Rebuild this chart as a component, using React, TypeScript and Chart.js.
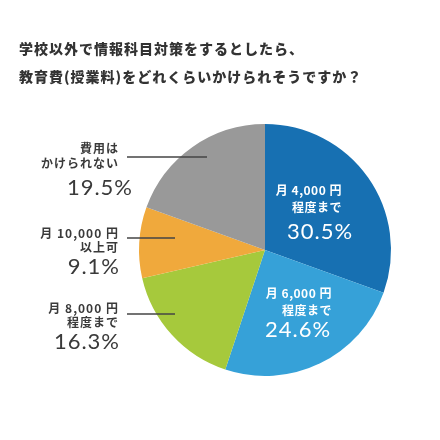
import Chart from "chart.js/auto";
import { useEffect, useRef } from "react";

const titleLines = [
  "学校以外で情報科目対策をするとしたら、",
  "教育費(授業料)をどれくらいかけられそうですか？",
];
const categories = [
  ["月 4,000 円", "程度まで"],
  ["月 6,000 円", "程度まで"],
  ["月 8,000 円", "程度まで"],
  ["月 10,000 円", "以上可"],
  ["費用は", "かけられない"],
];
const values = [30.5, 24.6, 16.3, 9.1, 19.5];
const colors = ["#1770b2", "#36a1d8", "#a6c93c", "#f0a93c", "#999999"];

const JP = '"Noto Sans CJK JP", "Noto Sans", sans-serif';
const NUM = 'Lato, "Noto Sans", sans-serif';

// label layout, relative to pie centre
const inside = [
  { idx: 0, right: 77, y1: -60, y2: -43, pctX: 55, pctY: -18 },
  { idx: 1, right: 67, y1: 43, y2: 60, pctX: 33, pctY: 80 },
];
const outside = [
  { idx: 4, y1: -102, y2: -87, lineY: -93, lineEnd: -58, pctRight: -132, pctY: -62 },
  { idx: 3, y1: -17, y2: -3, lineY: -12, lineEnd: -90, pctRight: -145, pctY: 17 },
  { idx: 2, y1: 58, y2: 72, lineY: 64, lineEnd: -90, pctRight: -145, pctY: 92 },
];

const labelPlugin = {
  id: "labels",
  afterDraw(chart: Chart) {
    const ctx = chart.ctx as any;
    const arc = chart.getDatasetMeta(0).data[0] as any;
    const cx = arc.x;
    const cy = arc.y;
    ctx.save();
    ctx.textBaseline = "middle";
    // title
    ctx.fillStyle = "#333333";
    ctx.font = `900 14px ${JP}`;
    ctx.letterSpacing = "1px";
    ctx.textAlign = "left";
    titleLines.forEach((t, i) => ctx.fillText(t, 19, 49 + i * 28));

    // inside labels
    ctx.fillStyle = "#ffffff";
    inside.forEach((p) => {
      ctx.textAlign = "right";
      ctx.font = `bold 12px ${JP}`;
      ctx.letterSpacing = "0.5px";
      ctx.fillText(categories[p.idx][0], cx + p.right, cy + p.y1);
      ctx.fillText(categories[p.idx][1], cx + p.right, cy + p.y2);
      ctx.textAlign = "center";
      ctx.font = `22px ${NUM}`;
      ctx.letterSpacing = "1px";
      ctx.fillText(values[p.idx].toFixed(1) + "%", cx + p.pctX, cy + p.pctY);
    });

    // outside labels with leader lines
    outside.forEach((o) => {
      ctx.fillStyle = "#3a3a3a";
      ctx.textAlign = "right";
      ctx.font = `bold 12px ${JP}`;
      ctx.letterSpacing = "1px";
      ctx.fillText(categories[o.idx][0], cx - 146, cy + o.y1);
      ctx.fillText(categories[o.idx][1], cx - 146, cy + o.y2);
      ctx.font = `22px ${NUM}`;
      ctx.letterSpacing = "1px";
      ctx.fillText(values[o.idx].toFixed(1) + "%", cx + o.pctRight, cy + o.pctY);
      ctx.strokeStyle = "#444444";
      ctx.lineWidth = 1.5;
      ctx.beginPath();
      ctx.moveTo(cx - 138, cy + o.lineY);
      ctx.lineTo(cx + o.lineEnd, cy + o.lineY);
      ctx.stroke();
    });
    ctx.restore();
  },
};

export default function App() {
  const chartRef = useRef<HTMLCanvasElement>(null);

  useEffect(() => {
    if (!chartRef.current) return;
    const chart = new Chart(chartRef.current, {
      type: "pie",
      data: {
        labels: categories.map((c) => c.join(" ")),
        datasets: [
          {
            data: values,
            backgroundColor: colors,
            borderWidth: 0,
          },
        ],
      },
      options: {
        animation: false,
        responsive: false,
        layout: { padding: { left: 139, right: 49, top: 124, bottom: 64 } },
        plugins: {
          legend: { display: false },
          tooltip: { enabled: false },
        },
      },
      plugins: [labelPlugin],
    });
    return () => {
      chart.destroy();
    };
  }, []);

  return (
    <div
      style={{
        position: "fixed",
        left: 0,
        top: 0,
        width: 440,
        height: 440,
        background: "#ffffff",
      }}
    >
      <canvas ref={chartRef} width={440} height={440}></canvas>
    </div>
  );
}
